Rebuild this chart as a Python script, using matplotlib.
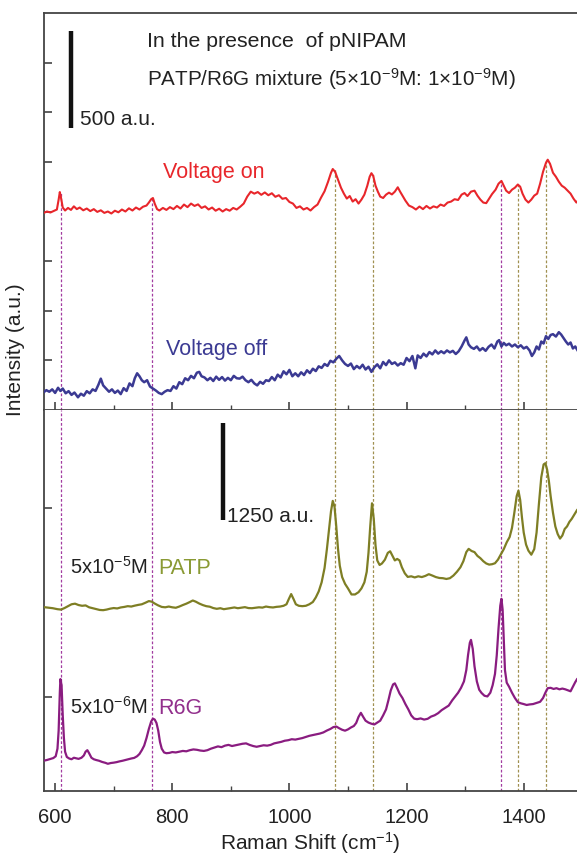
import matplotlib
matplotlib.use("Agg")
import matplotlib.pyplot as plt
from matplotlib import rcParams
from matplotlib.ticker import MultipleLocator, FixedLocator, NullFormatter

# Voltage on (red), top panel
ON_X = [580, 586, 592, 598, 603, 606, 608, 610, 613, 617, 622, 627, 632, 637, 642, 648, 654, 660, 666, 672,
        678, 684, 690, 696, 702, 708, 714, 720, 726, 732, 738, 744, 750, 756, 760, 764, 767, 770, 774, 778,
        784, 790, 796, 802, 808, 814, 820, 826, 832, 838, 844, 850, 856, 862, 868, 874, 880, 886, 892, 898,
        904, 910, 916, 922, 928, 934, 940, 946, 952, 958, 964, 970, 976, 982, 988, 994, 1000, 1006, 1012, 1018,
        1024, 1030, 1036, 1042, 1048, 1054, 1060, 1066, 1071, 1074, 1078, 1083, 1088, 1093, 1098, 1103, 1108,
        1113, 1118, 1123, 1128, 1133, 1137, 1140, 1143, 1147, 1151, 1155, 1160, 1165, 1170, 1175, 1180, 1185,
        1189, 1193, 1198, 1204, 1210, 1216, 1222, 1228, 1234, 1240, 1246, 1252, 1258, 1264, 1270, 1276, 1282,
        1288, 1294, 1299, 1304, 1310, 1316, 1321, 1326, 1331, 1336, 1341, 1346, 1352, 1357, 1362, 1366, 1370,
        1375, 1380, 1385, 1390, 1394, 1398, 1403, 1408, 1413, 1418, 1423, 1428, 1433, 1438, 1441, 1445, 1450,
        1455, 1460, 1465, 1470, 1475, 1480, 1485, 1490, 1494]
ON_Y = [992, 1000, 995, 1003, 1010, 1060, 1098, 1070, 1020, 1005, 1018, 1008, 1026, 1012, 1020, 1006, 1015, 1002, 1012, 998,
        1006, 993, 1000, 990, 1004, 996, 1010, 1000, 1016, 1005, 1020, 1010, 1024, 1030, 1045, 1062, 1068, 1040, 1012, 1005,
        1018, 1008, 1022, 1012, 1028, 1015, 1035, 1022, 1040, 1028, 1036, 1018, 1026, 1010, 1020, 1004, 1014, 1000, 1012, 1004,
        1018, 1010, 1024, 1040, 1075, 1100, 1090, 1098, 1084, 1096, 1082, 1092, 1074, 1082, 1064, 1068, 1048, 1040, 1018, 1026,
        1010, 1018, 1005, 1022, 1035, 1070, 1102, 1150, 1195, 1214, 1200, 1160, 1120, 1090, 1065, 1078, 1050,
        1062, 1040, 1060, 1085, 1130, 1175, 1193, 1180, 1130, 1100, 1075, 1068, 1085, 1095, 1086, 1100, 1122,
        1100, 1080, 1055, 1030, 1022, 1010, 1025, 1012, 1028, 1015, 1026, 1020, 1035, 1028, 1045, 1050, 1062,
        1058, 1085, 1093, 1078, 1100, 1105, 1080, 1060, 1045, 1042, 1065, 1088, 1110, 1140, 1154, 1130, 1105,
        1093, 1110, 1120, 1136, 1125, 1090, 1060, 1045, 1060, 1080, 1090, 1140, 1200, 1245, 1261, 1240, 1195,
        1175, 1150, 1130, 1120, 1105, 1090, 1065, 1045, 1060]

# Voltage off (navy), top panel
OFF_X = [580, 585, 590, 595, 600, 605, 609, 613, 618, 623, 628, 633, 639, 644, 649, 654, 659, 664, 669, 674,
         678, 682, 687, 692, 697, 702, 707, 712, 717, 722, 727, 732, 736, 740, 744, 748, 752, 757, 762, 767,
         772, 777, 782, 787, 792, 797, 802, 807, 812, 817, 822, 827, 832, 837, 842, 846, 850, 855, 860, 865,
         870, 875, 880, 885, 890, 895, 900, 905, 910, 915, 920, 925, 930, 935, 940, 945, 950, 955, 960, 965,
         970, 975, 980, 985, 990, 995, 1000, 1005, 1010, 1015, 1020, 1025, 1030, 1035, 1040, 1045, 1050, 1055,
         1060, 1065, 1070, 1075, 1080, 1085, 1090, 1095, 1100, 1105, 1110, 1115, 1120, 1125, 1130, 1135, 1140,
         1145, 1150, 1155, 1160, 1165, 1170, 1175, 1180, 1185, 1190, 1195, 1200, 1205, 1210, 1215, 1219, 1224,
         1229, 1234, 1239, 1244, 1249, 1254, 1259, 1264, 1269, 1274, 1279, 1284, 1289, 1294, 1299, 1302, 1306,
         1310, 1315, 1320, 1325, 1330, 1335, 1340, 1345, 1350, 1355, 1358, 1362, 1366, 1370, 1375, 1380, 1385,
         1390, 1395, 1400, 1405, 1410, 1414, 1418, 1422, 1426, 1430, 1434, 1438, 1442, 1446, 1450, 1455, 1460,
         1464, 1468, 1472, 1476, 1480, 1484, 1488, 1492]
OFF_Y = [88, 100, 92, 104, 86, 112, 96, 108, 84, 95, 76, 88, 64, 82, 72, 95, 84, 104, 96, 128,
         158, 124, 108, 92, 104, 86, 98, 80, 110, 96, 134, 120, 160, 185, 170, 150, 140, 150, 118, 108,
         98, 86, 80, 92, 100, 96, 120, 108, 140, 130, 160, 150, 172, 160, 188, 192, 170, 164, 150, 162,
         146, 168, 152, 166, 148, 162, 150, 172, 160, 158, 168, 150, 140, 152, 134, 124, 142, 132, 150, 146,
         166, 150, 178, 164, 195, 180, 202, 170, 185, 170, 190, 176, 200, 186, 208, 196, 220, 212,
         232, 222, 248, 240, 258, 272, 250, 232, 222, 234, 206, 222, 210, 228, 204, 218, 192,
         215, 230, 210, 242, 226, 250, 232, 240, 224, 236, 228, 262, 246, 272, 210, 275, 262,
         284, 270, 292, 280, 300, 284, 296, 286, 300, 290, 298, 282, 296, 320, 350, 366, 330,
         316, 308, 320, 300, 312, 298, 318, 330, 310, 345, 352, 320, 338, 326, 334, 320, 330,
         316, 326, 310, 318, 300, 272, 290, 320, 305, 345, 335, 372, 358, 378, 382, 370, 392,
         380, 362, 345, 330, 340, 310, 320, 300]

# PATP 5x10^-5 M (olive), bottom panel
PATP_X = [580, 588, 596, 604, 610, 616, 622, 628, 634, 640, 646, 652, 658, 664, 670, 676, 682, 688, 694, 700,
          706, 712, 718, 724, 730, 736, 742, 748, 754, 760, 765, 770, 776, 782, 788, 794, 800, 806, 812, 818,
          824, 830, 835, 840, 846, 852, 858, 864, 870, 876, 882, 888, 894, 900, 906, 912, 918, 924, 930, 936,
          942, 948, 954, 960, 966, 972, 978, 984, 990, 995, 999, 1003, 1007, 1011, 1016, 1022, 1028, 1034,
          1040, 1045, 1050, 1055, 1060, 1064, 1068, 1071, 1074, 1077, 1080, 1083, 1086, 1090, 1095, 1100,
          1106, 1112, 1118, 1123, 1128, 1132, 1135, 1138, 1141, 1144, 1147, 1150, 1154, 1158, 1163, 1168,
          1172, 1176, 1180, 1184, 1188, 1192, 1197, 1202, 1208, 1214, 1220, 1226, 1232, 1238, 1244, 1250,
          1256, 1262, 1268, 1274, 1280, 1286, 1292, 1297, 1302, 1306, 1311, 1316, 1321, 1326, 1331, 1336,
          1341, 1346, 1351, 1356, 1361, 1366, 1371, 1376, 1380, 1384, 1388, 1391, 1394, 1397, 1400, 1404,
          1408, 1413, 1418, 1422, 1426, 1430, 1434, 1437, 1440, 1443, 1446, 1450, 1454, 1458, 1462, 1466,
          1470, 1474, 1478, 1482, 1486, 1491]
PATP_Y = [2433, 2425, 2418, 2405, 2400, 2420, 2445, 2470, 2478, 2460, 2450, 2455, 2430, 2418, 2405, 2395, 2392, 2400, 2412, 2420,
          2415, 2428, 2435, 2445, 2440, 2452, 2462, 2470, 2490, 2512, 2505, 2480, 2455, 2435, 2430, 2440, 2430, 2424, 2440, 2460,
          2478, 2500, 2520, 2505, 2480, 2460, 2445, 2438, 2420, 2410, 2418, 2405, 2412, 2420, 2428, 2418, 2425, 2432, 2420, 2418,
          2424, 2430, 2426, 2440, 2432, 2428, 2436, 2440, 2450, 2470, 2540, 2605, 2540, 2470, 2450, 2445, 2450, 2470,
          2500, 2560, 2640, 2760, 2950, 3200, 3480, 3700, 3838, 3760, 3500, 3200, 2980, 2830, 2740, 2680,
          2600, 2600, 2630, 2680, 2760, 2900, 3150, 3500, 3806, 3600, 3250, 3050, 2990, 3010, 3060, 3150,
          3171, 3110, 3050, 3070, 3050, 2960, 2880, 2832, 2840, 2825, 2840, 2830, 2845, 2868, 2850, 2830,
          2818, 2815, 2805, 2815, 2850, 2900, 2960, 3040, 3160, 3203, 3175, 3160, 3110, 3080, 3040, 3010,
          2995, 3000, 3013, 3060, 3130, 3200, 3290, 3360, 3480, 3680, 3900, 3973, 3850, 3620, 3420, 3260,
          3180, 3126, 3200, 3420, 3800, 4150, 4320, 4336, 4250, 4100, 3900, 3680, 3500, 3400, 3339, 3380,
          3466, 3500, 3560, 3600, 3650, 3715]

# R6G 5x10^-6 M (purple), bottom panel
R6G_X = [580, 586, 592, 597, 601, 604, 606, 608, 609, 611, 613, 615, 617, 620, 624, 628, 632, 636, 640, 645,
         649, 652, 655, 658, 662, 666, 670, 675, 680, 686, 690, 695, 700, 705, 710, 715, 720, 725, 730, 735,
         740, 744, 748, 752, 756, 760, 764, 767, 770, 773, 776, 779, 782, 786, 790, 795, 800, 806, 812, 818,
         824, 830, 836, 842, 848, 854, 860, 866, 872, 878, 884, 890, 896, 902, 908, 914, 920, 926, 932, 938,
         944, 950, 956, 962, 968, 974, 980, 986, 992, 998, 1004, 1010, 1016, 1022, 1028, 1034, 1040, 1046,
         1052, 1058, 1064, 1070, 1075, 1080, 1085, 1090, 1095, 1100, 1105, 1110, 1114, 1118, 1122, 1126, 1130,
         1135, 1140, 1145, 1150, 1155, 1160, 1165, 1169, 1173, 1177, 1180, 1184, 1188, 1193, 1198, 1203, 1208,
         1213, 1218, 1224, 1230, 1236, 1242, 1248, 1254, 1260, 1266, 1272, 1278, 1283, 1288, 1293, 1298, 1302,
         1305, 1308, 1310, 1313, 1316, 1320, 1324, 1328, 1333, 1338, 1343, 1347, 1351, 1354, 1357, 1360, 1362,
         1364, 1366, 1368, 1371, 1375, 1380, 1385, 1390, 1395, 1400, 1405, 1410, 1416, 1422, 1428, 1433, 1437,
         1441, 1446, 1451, 1456, 1461, 1466, 1471, 1476, 1480, 1484, 1488, 1491]
R6G_Y = [400, 410, 425, 436, 460, 560, 800, 1300, 1480, 1400, 1000, 700, 520, 450, 430, 420, 440, 432, 425, 440,
         470, 520, 540, 500, 440, 420, 410, 400, 385, 372, 360, 370, 375, 382, 392, 400, 410, 420, 430, 438,
         460, 490, 540, 600, 700, 820, 920, 957, 945, 900, 800, 650, 560, 510, 500, 504, 515, 510, 520, 530,
         525, 540, 550, 545, 535, 530, 540, 560, 575, 590, 580, 600, 610, 595, 605, 615, 625, 630, 610, 595,
         585, 595, 605, 600, 610, 630, 640, 650, 665, 672, 685, 680, 690, 700, 715, 730, 740, 750,
         760, 775, 800, 821, 845, 853, 830, 810, 798, 815, 840, 860, 900, 980, 1034, 980, 930,
         905, 890, 880, 905, 930, 1000, 1080, 1200, 1330, 1410, 1424, 1360, 1290, 1230, 1150, 1080, 1000,
         957, 950, 960, 945, 955, 985, 1002, 1030, 1070, 1100, 1130, 1200, 1251, 1300, 1365, 1450, 1600,
         1800, 1960, 1999, 1880, 1650, 1450, 1340, 1297, 1260, 1251, 1300, 1400, 1550, 1795, 2150, 2450, 2543,
         2400, 2000, 1600, 1433, 1380, 1300, 1230, 1175, 1160, 1150, 1138, 1145, 1150, 1165, 1180, 1230, 1300,
         1360, 1365, 1350, 1360, 1345, 1355, 1345, 1330, 1319, 1380, 1440, 1478]

# Band positions marked by dashed guides (cm^-1) and the height of the red peak they start from
R6G_BANDS = [610, 765, 1362]
R6G_BAND_TOPS = [1098, 1068, 1154]
PATP_BANDS = [1077, 1142, 1390, 1438]
PATP_BAND_TOPS = [1214, 1193, 1136, 1261]

X_MAJOR = [600, 800, 1000, 1200, 1400]
TOP_YTICKS = [250, 500, 750, 1000, 1250, 1500, 1750]
BOT_YTICKS = [1250, 3750]

RED = "#E8262B"
NAVY = "#3B3A93"
OLIVE = "#7E7E24"
OLIVE_TXT = "#8A9A34"
PURPLE = "#8A1C80"
PURPLE_TXT = "#922F8C"
GUIDE_PURPLE = "#A23CA0"
GUIDE_OLIVE = "#A09050"

rcParams["font.family"] = ["Liberation Sans", "DejaVu Sans"]
rcParams["mathtext.fontset"] = "custom"
rcParams["mathtext.rm"] = "Liberation Sans"
rcParams["mathtext.it"] = "Liberation Sans"
rcParams["axes.linewidth"] = 1.3
rcParams["axes.edgecolor"] = "#444444"

W, H = 577, 856
fig = plt.figure(figsize=(W / 100, H / 100), dpi=100)


def frame(top_px, bot_px):
    return [44 / W, 1 - bot_px / H, 1 - 44 / W, (bot_px - top_px) / H]


ax_top = fig.add_axes(frame(13, 410))
ax_bot = fig.add_axes(frame(410, 791))

for ax in (ax_top, ax_bot):
    ax.set_xlim(581, 1491)
    ax.spines["right"].set_visible(False)
    ax.xaxis.set_major_locator(FixedLocator(X_MAJOR))
    ax.xaxis.set_minor_locator(MultipleLocator(100))
    ax.tick_params(axis="both", which="major", direction="in", length=6, width=1.2,
                   color="#444444", right=False, top=False)
    ax.tick_params(axis="x", which="minor", direction="in", length=3.5, width=1.0,
                   color="#444444", top=False)
    ax.yaxis.set_major_formatter(NullFormatter())

ax_top.xaxis.set_major_formatter(NullFormatter())
ax_bot.tick_params(axis="x", which="major", labelsize=14.5, pad=12, labelcolor="#222222")
ax_bot.spines["top"].set_visible(False)

ax_top.set_ylim(0, 2000)
ax_top.yaxis.set_major_locator(FixedLocator(TOP_YTICKS))
ax_bot.set_ylim(0, 5040)
ax_bot.yaxis.set_major_locator(FixedLocator(BOT_YTICKS))

# dashed guides, from the red peaks down through the lower panel
guide_kw = dict(linestyles=(0, (2.2, 1.6)), linewidth=0.9, zorder=1)
ax_top.vlines(R6G_BANDS, 0, R6G_BAND_TOPS, colors=GUIDE_PURPLE, **guide_kw)
ax_top.vlines(PATP_BANDS, 0, PATP_BAND_TOPS, colors=GUIDE_OLIVE, **guide_kw)
ax_bot.vlines(R6G_BANDS, 0, 5040, colors=GUIDE_PURPLE, **guide_kw)
ax_bot.vlines(PATP_BANDS, 0, 5040, colors=GUIDE_OLIVE, **guide_kw)

ax_top.plot(ON_X, ON_Y, color=RED, lw=1.5, zorder=3)
ax_top.plot(OFF_X, OFF_Y, color=NAVY, lw=1.8, zorder=3)
ax_bot.plot(PATP_X, PATP_Y, color=OLIVE, lw=1.6, zorder=3)
ax_bot.plot(R6G_X, R6G_Y, color=PURPLE, lw=1.6, zorder=3)

# intensity scale bars
ax_top.plot([627, 627], [1421, 1910], color="#111111", lw=3.2, solid_capstyle="butt")
ax_top.text(643, 1436, "500 a.u.", fontsize=15, color="#222222")
ax_bot.plot([887, 887], [3585, 4869], color="#111111", lw=3.2, solid_capstyle="butt")
ax_bot.text(894, 3559, "1250 a.u.", fontsize=15, color="#222222")

ax_top.text(757, 1831, "In the presence  of pNIPAM", fontsize=15.3, color="#222222")
ax_top.text(757, 1633, r"PATP/R6G mixture (5×10$^{\mathregular{-9}}$M: 1×10$^{\mathregular{-9}}$M)",
            fontsize=14.9, color="#222222")
ax_top.text(784, 1167, "Voltage on", fontsize=15.5, color=RED)
ax_top.text(789, 275, "Voltage off", fontsize=15.5, color=NAVY)

ax_bot.text(626, 2876, r"5x10$^{\mathregular{-5}}$M", fontsize=14.5, color="#222222")
ax_bot.text(776, 2876, "PATP", fontsize=15.5, color=OLIVE_TXT)
ax_bot.text(626, 1024, r"5x10$^{\mathregular{-6}}$M", fontsize=14.5, color="#222222")
ax_bot.text(776, 1024, "R6G", fontsize=15.5, color=PURPLE_TXT)

fig.text(16 / W, 1 - 350 / H, "Intensity (a.u.)", rotation=90, fontsize=15,
         color="#222222", ha="center", va="center")
fig.text(310 / W, 1 - 843 / H, r"Raman Shift (cm$^{\mathregular{-1}}$)", fontsize=15,
         color="#222222", ha="center", va="center")

fig.savefig("out.png", dpi=100)
